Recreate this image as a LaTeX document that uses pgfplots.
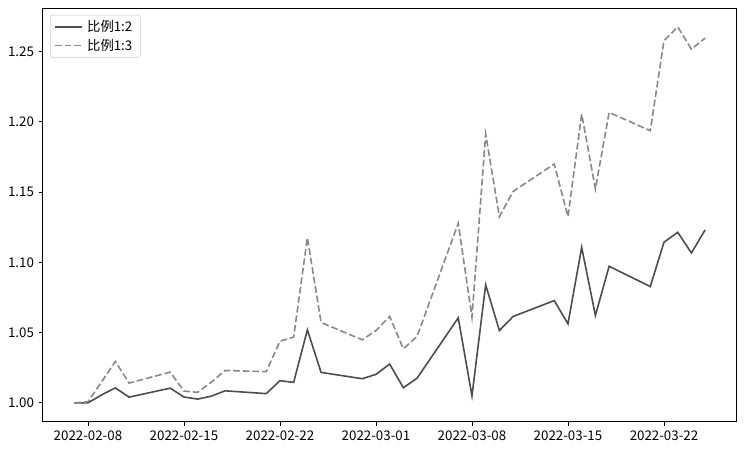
\documentclass[border=0pt]{standalone}
\usepackage{pgfplots}
\usepackage{pgfplotstable}
\pgfplotsset{compat=1.18}
\usepackage{fontspec}
\setmainfont{Noto Sans CJK SC}
\definecolor{cA}{HTML}{4D4D4D}
\definecolor{cB}{HTML}{888888}
\pgfplotstableread{
d a b
-1 1.0000 1.0000
0 1.0000 1.0008
1 1.0057 1.0150
2 1.0107 1.0295
3 1.0041 1.0141
6 1.0105 1.0219
7 1.0042 1.0084
8 1.0027 1.0075
9 1.0048 1.0148
10 1.0086 1.0231
13 1.0066 1.0222
14 1.0158 1.0439
15 1.0146 1.0468
16 1.0520 1.1176
17 1.0217 1.0572
20 1.0172 1.0449
21 1.0203 1.0515
22 1.0276 1.0615
23 1.0108 1.0385
24 1.0176 1.0473
27 1.0605 1.1278
28 1.0050 1.0610
29 1.0840 1.1913
30 1.0515 1.1325
31 1.0615 1.1505
34 1.0728 1.1700
35 1.0563 1.1325
36 1.1107 1.2055
37 1.0622 1.1522
38 1.0972 1.2067
41 1.0828 1.1937
42 1.1143 1.2576
43 1.1214 1.2676
44 1.1067 1.2517
45 1.1231 1.2596
}\data
\begin{document}
\begin{tikzpicture}
\begin{axis}[
  name=ax,
  scale only axis,
  width=520.5pt, height=310.3pt,
  xmin=-3.3, xmax=47.3,
  ymin=0.9866, ymax=1.2810,
  xtick={0,7,14,21,28,35,42},
  xticklabels={2022-02-08,2022-02-15,2022-02-22,2022-03-01,2022-03-08,2022-03-15,2022-03-22},
  ytick={1.00,1.05,1.10,1.15,1.20,1.25},
  yticklabels={1.00,1.05,1.10,1.15,1.20,1.25},
  xtick pos=bottom, ytick pos=left,
  tick align=outside,
  major tick length=3pt,
  tick style={black, line width=0.6pt},
  axis line style={black, line width=0.6pt},
  ticklabel style={font=\fontsize{10}{12}\selectfont},
  /pgf/number format/assume math mode=true,
  legend style={at={(0,1)}, anchor=north west, xshift=5.5pt, yshift=-5.2pt,
    draw=black!20, rounded corners=2pt, fill=white, fill opacity=0.8, text opacity=1,
    font=\fontsize{10}{12}\selectfont, row sep=0pt, inner xsep=3pt, inner ysep=2pt,
    nodes={inner xsep=3pt}},
  legend cell align=left,
  legend image code/.code={\draw[#1] (0cm,0cm) -- (0.72cm,0cm);},
]
\addplot[cA, line width=1.2pt, no marks] table[x=d, y=a] {\data};
\addlegendentry{比例1:2}
\addplot[cB, line width=1.2pt, no marks, dash pattern=on 5pt off 2.2pt] table[x=d, y=b] {\data};
\addlegendentry{比例1:3}
\end{axis}
\pgfresetboundingbox
\useasboundingbox ([xshift=-32pt,yshift=-21.2pt]ax.south west) rectangle ([xshift=5.5pt,yshift=6pt]ax.north east);
\end{tikzpicture}
\end{document}
